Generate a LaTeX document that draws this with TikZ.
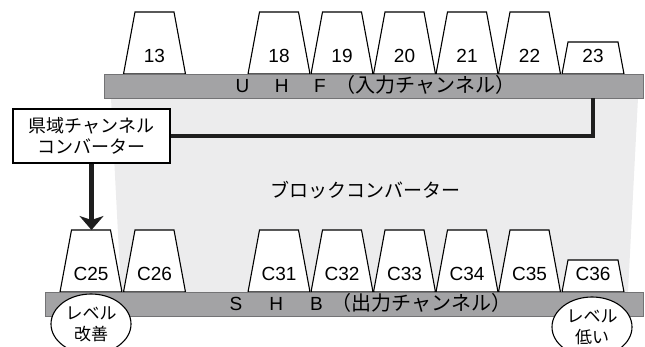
\documentclass[tikz,border=0pt]{standalone}
\usepackage{fontspec}
\setmainfont{Liberation Sans}
\newfontfamily\jpfont{Noto Sans CJK JP}
\usepackage{xcolor}
\definecolor{bargray}{HTML}{A3A3A5}
\definecolor{barline}{HTML}{737375}
\definecolor{bggray}{HTML}{ECECED}
\definecolor{busblack}{HTML}{1E1E1E}
\usepackage{tikz}
\usetikzlibrary{shapes.geometric, arrows.meta, positioning}

\begin{document}
\begin{tikzpicture}[
    x=1pt, y=-1pt,
    chan/.style={trapezium, trapezium left angle=79.5, trapezium right angle=79.5, draw=black, fill=white, line width=1.1pt, inner sep=0pt, outer sep=0pt, text width=39pt, align=center, text height=51pt, text depth=11pt, font=\fontsize{19}{22}\selectfont, anchor=bottom side},
    chanlow/.style={chan, trapezium left angle=79.4, trapezium right angle=79.4, text width=50pt, text height=21pt},
    bar/.style={draw=barline, fill=bargray, line width=0.8pt, inner sep=0pt, minimum height=24pt},
    bartext/.style={anchor=base west, inner sep=0pt, font=\fontsize{19}{22}\selectfont},
    conv/.style={draw=black, fill=white, line width=1.2pt, minimum width=157pt, minimum height=54pt, align=center, font=\jpfont\fontsize{18}{21.5}\selectfont},
    level/.style={ellipse, draw=black, fill=white, line width=1.1pt, minimum width=80pt, minimum height=60pt, inner sep=0pt, align=center, font=\jpfont\fontsize{17}{21}\selectfont},
    bus/.style={line width=4pt, draw=busblack}
]
\useasboundingbox (0,0) rectangle (645,347);

% ── Block converter area ──
\fill[bggray] (111,98) -- (638,98) -- (628,292) -- (121,292) -- cycle;
\node[font=\jpfont\fontsize{19}{22}\selectfont] (blk) at (365,190) {ブロックコンバーター};

% ── UHF input channels ──
\node[chan] (u13) at (154.5,74) {13};
\node[chan] (u18) at (279,74) {18};
\node[chan] (u19) at (342,74) {19};
\node[chan] (u20) at (404.5,74) {20};
\node[chan] (u21) at (467,74) {21};
\node[chan] (u22) at (529.5,74) {22};
\node[chanlow] (u23) at (593,74) {23};

% ── SHB output channels ──
\node[chan] (c25) at (91,292) {C25};
\node[chan] (c26) at (154.5,292) {C26};
\node[chan] (c31) at (279,292) {C31};
\node[chan] (c32) at (342,292) {C32};
\node[chan] (c33) at (404.5,292) {C33};
\node[chan] (c34) at (467,292) {C34};
\node[chan] (c35) at (529.5,292) {C35};
\node[chanlow] (c36) at (593,292) {C36};

% ── Bars ──
\node[bar, minimum width=539pt] (uhf) at (373.5,86) {};
\node[bar, minimum width=598pt] (shb) at (344,304) {};
\node[bartext] (uhftxt) at (235.5,92.3) {U\hspace{25.5pt}H\hspace{25.5pt}F\hspace{10pt}{\jpfont\fontsize{20}{22}\selectfont （入力チャンネル）}};
\node[bartext] (shbtxt) at (229.5,310) {S\hspace{27pt}H\hspace{27pt}B\hspace{9pt}{\jpfont\fontsize{20}{22}\selectfont （出力チャンネル）}};

% ── Prefecture channel converter ──
\node[conv] (cv) at (91.5,136) {県域チャンネル\\コンバーター};
\draw[bus] (cv.east) -| (u23 |- uhf.south);
\draw[-{Stealth[length=14pt, width=24pt, inset=4pt]}, line width=5pt, draw=busblack]
     (cv.south) -- (cv.south |- c25.top side);

% ── Level marks ──
\node[level] (lv1) at (91,324) {レベル\\改善};
\node[level] (lv2) at (592,327) {レベル\\低い};

\end{tikzpicture}
\end{document}
